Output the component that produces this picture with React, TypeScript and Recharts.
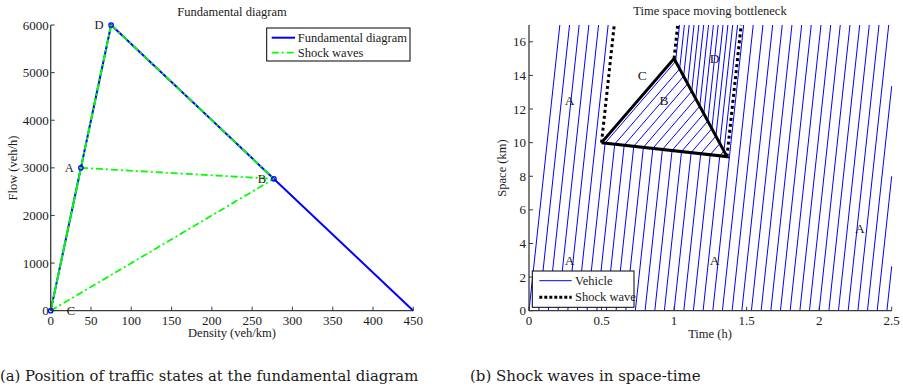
import React from 'react';
import { ComposedChart, Line, Scatter, XAxis, YAxis } from 'recharts';

// ---------- Fundamental diagram (density in veh/km, flow in veh/h) ----------
const fdDensity = [0, 75, 450];
const fdFlow = [0, 6000, 0];

// Traffic states used in the moving-bottleneck example
const stateNames = ['A', 'B', 'C', 'D'];
const stateDensity = [37.5, 277, 0, 75];
const stateFlow = [3000, 2770, 0, 6000];

// Shock waves between pairs of states
const shockPairs: [string, string][] = [
  ['A', 'C'],
  ['C', 'D'],
  ['D', 'B'],
  ['A', 'B'],
  ['C', 'B'],
  ['D', 'A'],
];

// State letters written next to the points of the diagram
const fdLabelNames = ['D', 'A', 'B', 'C'];
const fdLabelDensity = [60, 23, 262, 25];
const fdLabelFlow = [6000, 3000, 2770, 0];

const densityTicks = [0, 50, 100, 150, 200, 250, 300, 350, 400, 450];
const flowTicks = [0, 1000, 2000, 3000, 4000, 5000, 6000];

// ---------- Time-space diagram ----------
// Entry times (h) at x = 0 of every 200th vehicle
const departureTimes = [
  0, 0.067, 0.133, 0.2, 0.267, 0.333, 0.4, 0.467, 0.533, 0.6, 0.667, 0.733, 0.8,
  0.867, 0.933, 1.0, 1.067, 1.133, 1.2, 1.267, 1.333, 1.4, 1.467, 1.533, 1.6,
  1.667, 1.733, 1.8, 1.867, 1.933, 2.0, 2.067, 2.133, 2.2, 2.267, 2.333, 2.4,
  2.467,
];

// Slow vehicle: enters the road at (0.5 h, 10 km), leaves at (1.0 h, 15 km)
const bottleneckTime = [0.5, 1.0];
const bottleneckSpace = [10, 15];

// Region letters in the time-space plane
const tsLabelNames = ['A', 'C', 'B', 'D', 'A', 'A', 'A'];
const tsLabelTime = [0.28, 0.78, 0.93, 1.28, 0.28, 1.28, 2.28];
const tsLabelSpace = [12.5, 14, 12.5, 15, 3, 3, 4.9];

const timeTicks = [0, 0.5, 1, 1.5, 2, 2.5];
const spaceTicks = [0, 2, 4, 6, 8, 10, 12, 14, 16];
const T_MAX = 2.5;
const X_MAX = 17;

// ---------- styling ----------
const BLUE = '#0000ff';
const GREEN = '#00ff00';
const AXIS = '#3a3a3a';
const TEXT = '#1a1a1a';
const SERIF = '"Liberation Serif", "Times New Roman", serif';
const CAPTION = '"DejaVu Serif", serif';

// ---------- derived model quantities ----------
type Pt = { x: number; y: number };
const state = (n: string) => {
  const i = stateNames.indexOf(n);
  return { k: stateDensity[i], q: stateFlow[i] };
};
const speed = (n: string) => state(n).q / state(n).k;
const shockSpeed = (a: string, b: string) =>
  (state(b).q - state(a).q) / (state(b).k - state(a).k);

// Intersection of the line through P with slope s and the line through Q with slope r
const meet = (P: Pt, s: number, Q: Pt, r: number): Pt => {
  const t = (Q.y - P.y + s * P.x - r * Q.x) / (s - r);
  return { x: t, y: P.y + s * (t - P.x) };
};

const P0: Pt = { x: bottleneckTime[0], y: bottleneckSpace[0] };
const P1: Pt = { x: bottleneckTime[1], y: bottleneckSpace[1] };
const sAB = shockSpeed('A', 'B');
const sBD = shockSpeed('B', 'D');
const P2 = meet(P0, sAB, P1, sBD);

const toTop = (p: Pt, v: number): Pt => ({ x: p.x + (X_MAX - p.y) / v, y: X_MAX });

const clipToTime = (pts: Pt[]): Pt[] => {
  const out = [pts[0]];
  for (let i = 1; i < pts.length; i++) {
    const a = pts[i - 1];
    const b = pts[i];
    if (b.x <= T_MAX) {
      out.push(b);
      continue;
    }
    if (a.x < T_MAX) {
      const f = (T_MAX - a.x) / (b.x - a.x);
      out.push({ x: T_MAX, y: a.y + f * (b.y - a.y) });
    }
    break;
  }
  return out;
};

const trajectory = (t0: number): Pt[] => {
  const vA = speed('A');
  const start = { x: t0, y: 0 };
  const pts: Pt[] = [start];
  let last: Pt = start;
  let v = vA;
  const hit = meet(start, vA, P0, sAB);
  if (hit.x > P0.x && hit.x < P2.x) {
    const out = meet(hit, speed('B'), P1, sBD);
    pts.push(hit, out);
    last = out;
    v = speed('D');
  }
  pts.push(toTop(last, v));
  return clipToTime(pts);
};

const vehicles = departureTimes.map(trajectory);
const triangle = [P0, P1, P2, P0];
const dottedShocks = [
  [P0, toTop(P0, shockSpeed('A', 'C'))],
  [P1, toTop(P1, shockSpeed('C', 'D'))],
  [P2, toTop(P2, shockSpeed('D', 'A'))],
];
const tsLabels = tsLabelNames.map((name, i) => ({ name, x: tsLabelTime[i], y: tsLabelSpace[i] }));

const fdCurve = fdDensity.map((x, i) => ({ x, y: fdFlow[i] }));
const fdShocks = shockPairs.map(([a, b]) => [
  { x: state(a).k, y: state(a).q },
  { x: state(b).k, y: state(b).q },
]);
const fdPoints = stateNames.map((n) => ({ x: state(n).k, y: state(n).q }));
const fdLabels = fdLabelNames.map((name, i) => ({ name, x: fdLabelDensity[i], y: fdLabelFlow[i] }));

// ---------- axis ticks (drawn inward) ----------
const makeYTick = (gap: number) => (props: any) => {
  const { x, y, payload } = props;
  return (
    <g>
      <line x1={x} x2={x + 4} y1={y} y2={y} stroke={AXIS} strokeWidth={1} />
      <text x={x - gap} y={y} textAnchor="end" dominantBaseline="central" fontFamily={SERIF} fontSize={13} fill={TEXT}>
        {payload.value}
      </text>
    </g>
  );
};
const makeXTick = (gap: number) => (props: any) => {
  const { x, y, payload } = props;
  return (
    <g>
      <line x1={x} x2={x} y1={y} y2={y - 4} stroke={AXIS} strokeWidth={1} />
      <text x={x} y={y + gap} textAnchor="middle" dominantBaseline="central" fontFamily={SERIF} fontSize={13} fill={TEXT}>
        {payload.value}
      </text>
    </g>
  );
};

const letter = (size: number) => (p: any) => (
  <text x={p.cx} y={p.cy} textAnchor="middle" dominantBaseline="central" fontFamily={SERIF} fontSize={size} fill={TEXT}>
    {p.payload.name}
  </text>
);

const ring = (p: any) => <circle cx={p.cx} cy={p.cy} r={2.2} fill="none" stroke={BLUE} strokeWidth={1.3} />;

const axisLine = { stroke: AXIS, strokeWidth: 1.3 };

function FundamentalDiagram() {
  return (
    <ComposedChart width={450} height={388} margin={{ top: 25, right: 36.7, bottom: 47.3, left: 10.7 }}>
      <XAxis
        type="number"
        dataKey="x"
        domain={[0, 450]}
        ticks={densityTicks}
        height={30}
        tickSize={0}
        tickMargin={0}
        tickLine={false}
        axisLine={axisLine}
        tick={makeXTick(9.5)}
        interval={0}
      />
      <YAxis
        type="number"
        dataKey="y"
        domain={[0, 6000]}
        ticks={flowTicks}
        width={40}
        tickSize={0}
        tickMargin={0}
        tickLine={false}
        axisLine={axisLine}
        tick={makeYTick(2)}
        interval={0}
      />
      <Line data={fdCurve} dataKey="y" stroke={BLUE} strokeWidth={2} dot={false} activeDot={false} isAnimationActive={false} />
      {fdShocks.map((seg, i) => (
        <Line
          key={`shock-${i}`}
          data={seg}
          dataKey="y"
          stroke={GREEN}
          strokeWidth={1.8}
          strokeDasharray="7 3 2 3"
          dot={false}
          activeDot={false}
          isAnimationActive={false}
        />
      ))}
      <Scatter data={fdPoints} dataKey="y" shape={ring} isAnimationActive={false} />
      <Scatter data={fdLabels} dataKey="y" shape={letter(12.5)} isAnimationActive={false} />
    </ComposedChart>
  );
}

function TimeSpaceDiagram() {
  return (
    <ComposedChart width={453} height={388} margin={{ top: 25, right: 11.3, bottom: 47.3, left: 39 }}>
      <XAxis
        type="number"
        dataKey="x"
        domain={[0, T_MAX]}
        ticks={timeTicks}
        height={30}
        tickSize={0}
        tickMargin={0}
        tickLine={false}
        axisLine={axisLine}
        tick={makeXTick(9.5)}
        interval={0}
      />
      <YAxis
        type="number"
        dataKey="y"
        domain={[0, X_MAX]}
        ticks={spaceTicks}
        width={40}
        tickSize={0}
        tickMargin={0}
        tickLine={false}
        axisLine={axisLine}
        tick={makeYTick(3)}
        interval={0}
      />
      {vehicles.map((path, i) => (
        <Line
          key={`veh-${i}`}
          data={path}
          dataKey="y"
          stroke={BLUE}
          strokeWidth={1}
          dot={false}
          activeDot={false}
          isAnimationActive={false}
        />
      ))}
      <Line data={triangle} dataKey="y" stroke="#000" strokeWidth={3} dot={false} activeDot={false} isAnimationActive={false} />
      {dottedShocks.map((seg, i) => (
        <Line
          key={`dot-${i}`}
          data={seg}
          dataKey="y"
          stroke="#000"
          strokeWidth={3}
          strokeDasharray="3 3"
          dot={false}
          activeDot={false}
          isAnimationActive={false}
        />
      ))}
      <Scatter data={tsLabels} dataKey="y" shape={letter(13.5)} isAnimationActive={false} />
    </ComposedChart>
  );
}

export default function App() {
  const t = { fontFamily: SERIF, fill: TEXT, fontSize: 12.5 };
  return (
    <div style={{ position: 'absolute', left: 0, top: 0, width: 903, height: 388, background: '#fff', overflow: 'hidden' }}>
      <div style={{ position: 'absolute', left: 0, top: 0 }}>
        <FundamentalDiagram />
      </div>
      <div style={{ position: 'absolute', left: 450, top: 0 }}>
        <TimeSpaceDiagram />
      </div>
      <svg width={903} height={388} style={{ position: 'absolute', left: 0, top: 0, pointerEvents: 'none' }}>
        {/* titles and axis names */}
        <text x={232} y={12} textAnchor="middle" dominantBaseline="central" {...t}>Fundamental diagram</text>
        <text x={710} y={10.5} textAnchor="middle" dominantBaseline="central" {...t}>Time space moving bottleneck</text>
        <text x={232} y={333} textAnchor="middle" dominantBaseline="central" {...t}>Density (veh/km)</text>
        <text x={710} y={334} textAnchor="middle" dominantBaseline="central" {...t}>Time (h)</text>
        <text x={13} y={168} textAnchor="middle" dominantBaseline="central" transform="rotate(-90 13 168)" {...t}>Flow (veh/h)</text>
        <text x={502} y={168} textAnchor="middle" dominantBaseline="central" transform="rotate(-90 502 168)" {...t}>Space (km)</text>

        {/* legend of the fundamental diagram */}
        <rect x={266.7} y={28} width={143.3} height={33} fill="#fff" stroke="#000" strokeWidth={1} />
        <line x1={271.7} x2={295} y1={37.7} y2={37.7} stroke={BLUE} strokeWidth={2} />
        <text x={297.7} y={37.7} dominantBaseline="central" {...t}>Fundamental diagram</text>
        <line x1={271.7} x2={295} y1={52.7} y2={52.7} stroke={GREEN} strokeWidth={1.8} strokeDasharray="7 3 2 3" />
        <text x={297.7} y={52.7} dominantBaseline="central" {...t}>Shock waves</text>

        {/* legend of the time-space diagram */}
        <rect x={532.3} y={271} width={101.7} height={36.3} fill="#fff" stroke="#000" strokeWidth={1} />
        <line x1={539.3} x2={571.7} y1={280.7} y2={280.7} stroke={BLUE} strokeWidth={1} />
        <text x={575} y={280.7} dominantBaseline="central" {...t}>Vehicle</text>
        <line x1={539.3} x2={571.7} y1={297.3} y2={297.3} stroke="#000" strokeWidth={3} strokeDasharray="3 2" />
        <text x={575} y={297.3} dominantBaseline="central" {...t}>Shock wave</text>

        {/* sub-figure captions */}
        <text x={0} y={381} fontFamily={CAPTION} fontSize={14.8} fill={TEXT}>(a) Position of traffic states at the fundamental diagram</text>
        <text x={470} y={381} fontFamily={CAPTION} fontSize={15} fill={TEXT}>(b) Shock waves in space-time</text>
      </svg>
    </div>
  );
}
